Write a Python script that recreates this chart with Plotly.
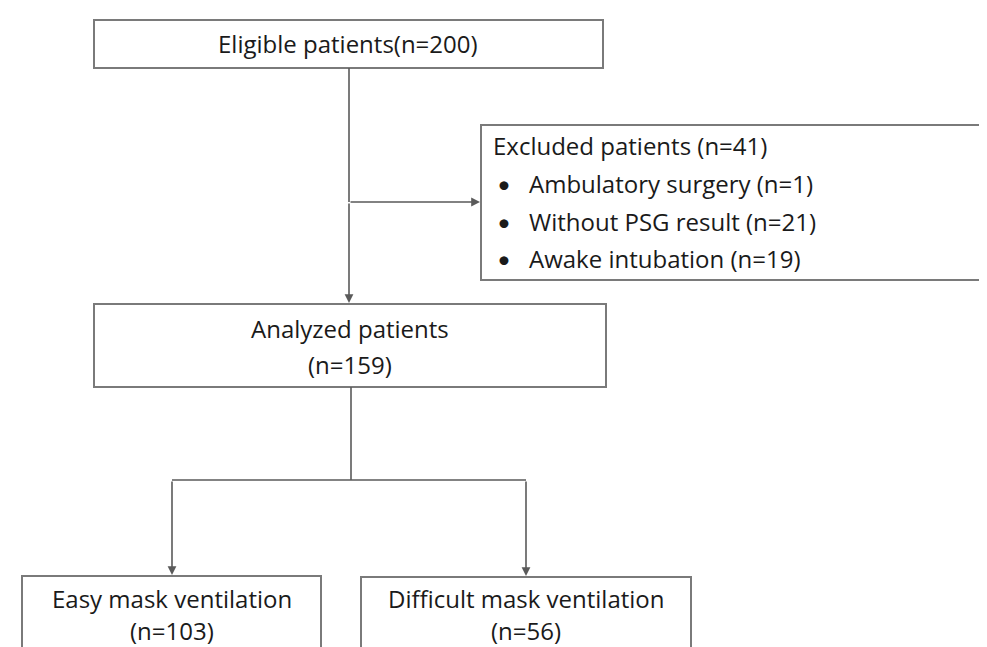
import plotly.graph_objects as go

# ---- data ----
eligible_n = 200
excluded_reasons = ["Ambulatory surgery", "Without PSG result", "Awake intubation"]
excluded_counts = [1, 21, 19]
excluded_n = 41
analyzed_n = 159
group_labels = ["Easy mask ventilation", "Difficult mask ventilation"]
group_counts = [103, 56]

W, H = 987, 647
FONT = "'Open Sans', Lato, sans-serif"
TXT = "#1a1a1a"
BOX = "#7a7a7a"
LINE = "#5a5a5a"
FS = 24

fig = go.Figure()
fig.add_trace(go.Scatter(x=[0, W], y=[0, H], mode="markers", marker=dict(opacity=0), hoverinfo="skip", showlegend=False))

shapes = []
ann = []

def box(x0, y0, x1, y1):
    shapes.append(dict(type="rect", x0=x0, y0=y0, x1=x1, y1=y1, xref="x", yref="y",
                       line=dict(color=BOX, width=2), fillcolor="white", layer="above"))

def line(x0, y0, x1, y1):
    shapes.append(dict(type="line", x0=x0, y0=y0, x1=x1, y1=y1, xref="x", yref="y",
                       line=dict(color=LINE, width=1.6)))

def arrow(x0, y0, x1, y1):
    ann.append(dict(x=x1, y=y1, ax=x0, ay=y0, xref="x", yref="y", axref="x", ayref="y",
                    text="", showarrow=True, arrowhead=2, arrowsize=1.1, arrowwidth=1.6,
                    arrowcolor=LINE, standoff=0, startstandoff=0))

def text(x, y, s, anchor="center", size=FS, family=FONT):
    ann.append(dict(x=x, y=y, xref="x", yref="y", text=s, showarrow=False, xanchor=anchor,
                    yanchor="middle", font=dict(family=family, size=size, color=TXT)))

# boxes
box(86, 12, 595, 60)
box(473, 117, 982, 272)
box(86, 296, 598, 379)
box(14, 568, 313, 680)
box(353, 569, 683, 680)

# connectors
line(341, 60, 341, 194)
arrow(341, 194, 341, 295)
arrow(341, 194, 472, 194)
line(343, 379, 343, 472)
line(164, 472, 518, 472)
arrow(164, 472, 164, 567)
arrow(518, 472, 518, 568)

# texts
text(340, 35, f"Eligible patients(n={eligible_n})")
text(483, 137, f"Excluded patients (n={excluded_n})", anchor="left")
ys = [175, 213, 250]
for y, r, c in zip(ys, excluded_reasons, excluded_counts):
    text(487, y, "•", anchor="left", size=24, family="Lato, sans-serif")
    text(519, y, f"{r} (n={c})", anchor="left")
text(342, 320, "Analyzed patients")
text(342, 356, f"(n={analyzed_n})")
text(164, 590, group_labels[0])
text(164, 622, f"(n={group_counts[0]})")
text(518, 590, group_labels[1])
text(518, 622, f"(n={group_counts[1]})")

fig.update_layout(
    width=W, height=H, margin=dict(l=0, r=0, t=0, b=0),
    paper_bgcolor="white", plot_bgcolor="white",
    xaxis=dict(range=[0, W], visible=False, fixedrange=True),
    yaxis=dict(range=[H, 0], visible=False, fixedrange=True),
    shapes=shapes, annotations=ann, showlegend=False,
)
fig.write_html("out.html")
